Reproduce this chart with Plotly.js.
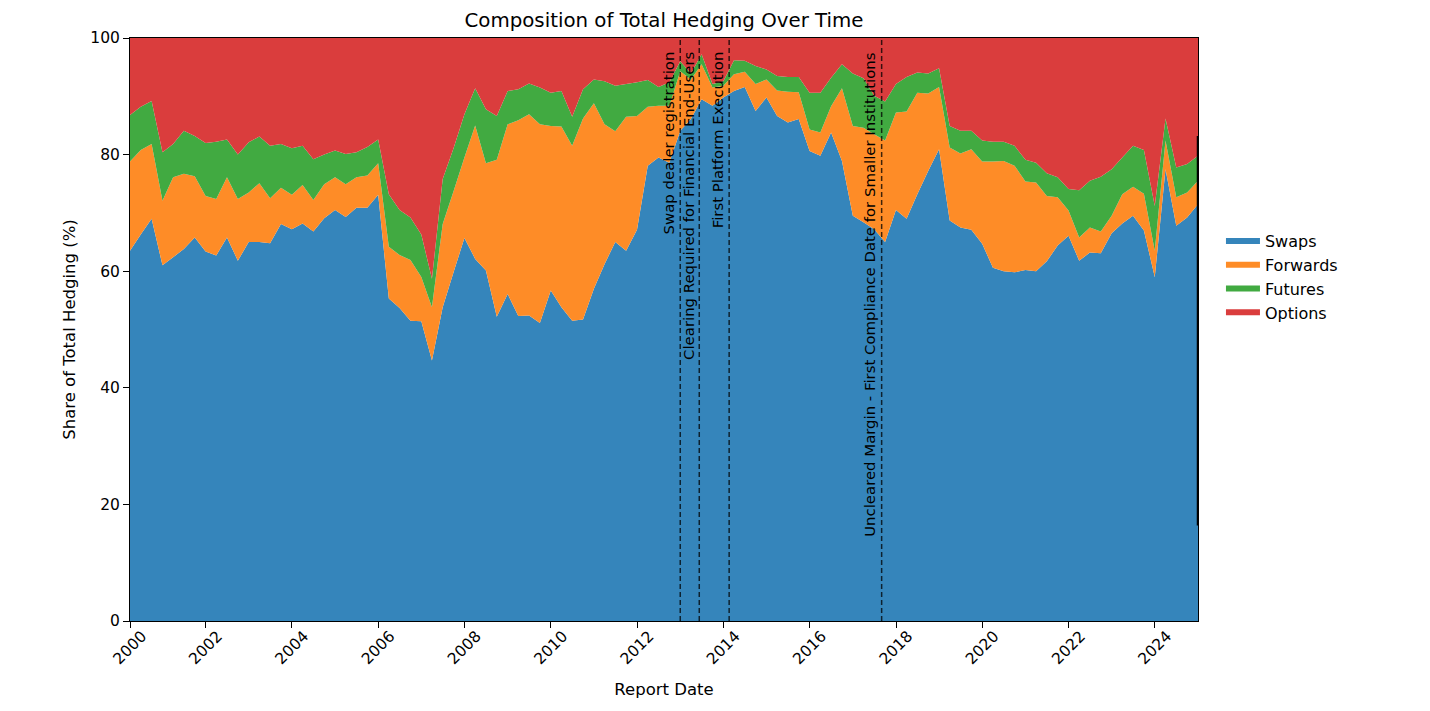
<!DOCTYPE html>
<html>
<head>
<meta charset="utf-8">
<script src="https://cdn.plot.ly/plotly-3.0.1.min.js"></script>
<style>
  body { margin: 0; background: #fff; }
  #chart { width: 1430px; height: 711px; }
</style>
</head>
<body>
<div id="chart"></div>
<script>
var reportDates = [
  "2000-03-31", "2000-06-30", "2000-09-30", "2000-12-31",
  "2001-03-31", "2001-06-30", "2001-09-30", "2001-12-31",
  "2002-03-31", "2002-06-30", "2002-09-30", "2002-12-31",
  "2003-03-31", "2003-06-30", "2003-09-30", "2003-12-31",
  "2004-03-31", "2004-06-30", "2004-09-30", "2004-12-31",
  "2005-03-31", "2005-06-30", "2005-09-30", "2005-12-31",
  "2006-03-31", "2006-06-30", "2006-09-30", "2006-12-31",
  "2007-03-31", "2007-06-30", "2007-09-30", "2007-12-31",
  "2008-03-31", "2008-06-30", "2008-09-30", "2008-12-31",
  "2009-03-31", "2009-06-30", "2009-09-30", "2009-12-31",
  "2010-03-31", "2010-06-30", "2010-09-30", "2010-12-31",
  "2011-03-31", "2011-06-30", "2011-09-30", "2011-12-31",
  "2012-03-31", "2012-06-30", "2012-09-30", "2012-12-31",
  "2013-03-31", "2013-06-30", "2013-09-30", "2013-12-31",
  "2014-03-31", "2014-06-30", "2014-09-30", "2014-12-31",
  "2015-03-31", "2015-06-30", "2015-09-30", "2015-12-31",
  "2016-03-31", "2016-06-30", "2016-09-30", "2016-12-31",
  "2017-03-31", "2017-06-30", "2017-09-30", "2017-12-31",
  "2018-03-31", "2018-06-30", "2018-09-30", "2018-12-31",
  "2019-03-31", "2019-06-30", "2019-09-30", "2019-12-31",
  "2020-03-31", "2020-06-30", "2020-09-30", "2020-12-31",
  "2021-03-31", "2021-06-30", "2021-09-30", "2021-12-31",
  "2022-03-31", "2022-06-30", "2022-09-30", "2022-12-31",
  "2023-03-31", "2023-06-30", "2023-09-30", "2023-12-31",
  "2024-03-31", "2024-06-30", "2024-09-30", "2024-12-31"
];

// shares in %
var swaps = [
  63.5, 66.3, 69.0, 61.0, 62.4, 63.8, 65.8, 63.4, 62.7, 65.8,
  61.8, 65.0, 65.0, 64.8, 68.1, 67.2, 68.2, 66.8, 69.1, 70.5,
  69.3, 70.9, 70.9, 73.1, 55.3, 53.7, 51.5, 51.4, 44.7, 53.8,
  59.8, 65.7, 62.1, 60.1, 52.2, 56.1, 52.3, 52.4, 51.1, 56.7,
  53.8, 51.5, 51.7, 57.0, 61.2, 65.0, 63.5, 67.1, 78.1, 79.5,
  78.6, 84.1, 86.1, 89.5, 88.4, 89.8, 90.9, 91.6, 87.5, 89.8,
  86.6, 85.5, 86.1, 80.6, 79.8, 83.8, 78.9, 69.5, 68.4, 67.2,
  65.0, 70.5, 69.0, 73.2, 77.2, 80.9, 68.7, 67.5, 67.1, 64.7,
  60.6, 60.0, 59.8, 60.2, 60.0, 61.7, 64.4, 66.1, 61.8, 63.2,
  63.1, 66.5, 68.2, 69.5, 67.0, 59.0, 77.5, 67.8, 69.2, 71.5
];
var forwards = [
  15.3, 14.5, 12.8, 11.1, 13.7, 12.9, 10.5, 9.5, 9.7, 10.3,
  10.6, 8.5, 10.1, 7.7, 6.2, 5.9, 6.6, 5.4, 5.8, 5.6,
  5.6, 5.2, 5.5, 5.4, 8.9, 9.1, 10.4, 7.6, 9.1, 14.3,
  13.9, 13.8, 22.9, 18.4, 26.9, 29.1, 33.6, 34.5, 34.1, 28.2,
  31.0, 30.0, 34.5, 31.8, 24.0, 19.0, 23.0, 19.5, 10.1, 8.9,
  9.8, 10.2, 6.8, 6.0, 3.1, 2.0, 2.9, 2.6, 4.6, 3.1,
  4.4, 5.3, 4.6, 3.7, 4.0, 4.5, 12.5, 15.4, 16.2, 16.3,
  17.4, 16.7, 18.4, 17.4, 13.3, 10.7, 12.5, 12.7, 13.8, 14.1,
  18.2, 18.9, 18.3, 15.2, 15.2, 11.2, 8.3, 4.3, 4.0, 4.3,
  3.7, 3.0, 5.0, 5.0, 6.3, 4.5, 4.9, 4.9, 4.3, 4.0
];
var futures = [
  8.0, 7.4, 7.4, 8.3, 5.7, 7.4, 6.9, 9.1, 9.8, 6.5,
  7.6, 8.6, 8.0, 9.0, 7.5, 8.0, 6.7, 7.0, 5.1, 4.6,
  5.2, 4.3, 4.9, 4.1, 9.0, 7.7, 7.3, 7.3, 4.9, 7.7,
  7.4, 7.4, 6.4, 9.3, 7.5, 5.7, 5.3, 5.3, 6.3, 5.7,
  6.1, 5.0, 5.0, 4.1, 7.4, 7.8, 5.6, 5.8, 4.6, 3.2,
  4.0, 1.7, 1.0, 1.7, 0.6, 0.8, 2.4, 1.9, 3.1, 1.7,
  2.5, 2.5, 2.6, 6.3, 6.8, 4.9, 4.1, 9.0, 8.5, 6.6,
  6.7, 4.9, 5.9, 3.5, 3.4, 3.2, 3.7, 3.9, 3.2, 3.6,
  3.4, 3.3, 3.4, 3.7, 3.4, 3.9, 3.4, 3.7, 8.1, 8.0,
  9.4, 8.0, 6.3, 7.0, 7.5, 7.7, 3.8, 5.1, 4.9, 4.3
];
var options = [
  13.2, 11.8, 10.8, 19.6, 18.2, 15.9, 16.8, 18.0, 17.8, 17.4,
  20.0, 17.9, 16.9, 18.5, 18.2, 18.9, 18.5, 20.8, 20.0, 19.3,
  19.9, 19.6, 18.7, 17.4, 26.8, 29.5, 30.8, 33.7, 41.3, 24.2,
  18.9, 13.1, 8.6, 12.2, 13.4, 9.1, 8.8, 7.8, 8.5, 9.4,
  9.1, 13.5, 8.8, 7.1, 7.4, 8.2, 7.9, 7.6, 7.2, 8.4,
  7.6, 4.0, 6.1, 2.8, 7.9, 7.4, 3.8, 3.9, 4.8, 5.4,
  6.5, 6.7, 6.7, 9.4, 9.4, 6.8, 4.5, 6.1, 6.9, 9.9,
  10.9, 7.9, 6.7, 5.9, 6.1, 5.2, 15.1, 15.9, 15.9, 17.6,
  17.8, 17.8, 18.5, 20.9, 21.4, 23.2, 23.9, 25.9, 26.1, 24.5,
  23.8, 22.5, 20.5, 18.5, 19.2, 28.8, 13.8, 22.2, 21.6, 20.2
];

var seriesNames = ["Swaps", "Forwards", "Futures", "Options"];
var seriesColors = ["#3585bb", "#fe8c27", "#41aa41", "#da3d3d"];

// x tick positions and their labels (first one sits on the axis start)
var yearTickVals = [
  "2000-03-31", "2002-01-01", "2004-01-01", "2006-01-01", "2008-01-01",
  "2010-01-01", "2012-01-01", "2014-01-01", "2016-01-01", "2018-01-01",
  "2020-01-01", "2022-01-01", "2024-01-01"
];
var yearTickText = [
  "2000", "2002", "2004", "2006", "2008", "2010", "2012",
  "2014", "2016", "2018", "2020", "2022", "2024"
];

var eventDates = ["2012-12-31", "2013-06-10", "2014-02-18", "2017-09-01"];
var eventLabels = [
  "Swap dealer registration",
  "Clearing Required for Financial End-Users",
  "First Platform Execution",
  "Uncleared Margin - First Compliance Date for Smaller Institutions"
];

var font = "DejaVu Sans, Liberation Sans, sans-serif";

var traces = [swaps, forwards, futures, options].map(function (vals, i) {
  return {
    x: reportDates,
    y: vals,
    name: seriesNames[i],
    type: "scatter",
    mode: "none",
    stackgroup: "hedge",
    fill: "tonexty",
    fillcolor: seriesColors[i],
    line: { width: 0 },
  };
});

var shapes = eventDates.map(function (d) {
  return {
    type: "line",
    xref: "x",
    yref: "paper",
    x0: d,
    x1: d,
    y0: 0,
    y1: 1,
    line: { color: "rgba(0,0,0,0.75)", width: 1.5, dash: "5px,3px" },
  };
});
// dark stroke on the right edge of the last report date
shapes.push({
  type: "line",
  xref: "x",
  yref: "y",
  x0: reportDates[reportDates.length - 1],
  x1: reportDates[reportDates.length - 1],
  y0: 16.4,
  y1: 83.2,
  line: { color: "#000", width: 2.5 },
});

var annotations = eventDates.map(function (d, i) {
  return {
    x: d,
    y: 98,
    xref: "x",
    yref: "y",
    text: eventLabels[i],
    textangle: -90,
    xanchor: "right",
    yanchor: "top",
    showarrow: false,
    font: { family: font, size: 14.9, color: "#000" },
  };
});

var layout = {
  width: 1430,
  height: 711,
  margin: { l: 130, r: 232, t: 38, b: 90 },
  paper_bgcolor: "#fff",
  plot_bgcolor: "#fff",
  font: { family: font, color: "#000" },
  title: {
    text: "Composition of Total Hedging Over Time",
    font: { family: font, size: 19.8, color: "#000" },
    x: 0.5,
    xref: "paper",
    xanchor: "center",
    y: 1 - 20 / 711,
    yref: "container",
    yanchor: "middle",
  },
  xaxis: {
    type: "date",
    range: [reportDates[0], reportDates[reportDates.length - 1]],
    tickmode: "array",
    tickvals: yearTickVals,
    ticktext: yearTickText,
    tickangle: -45,
    ticklabelshift: 12,
    ticklabelstandoff: -7,
    ticks: "outside",
    ticklen: 6,
    tickcolor: "#000",
    tickfont: { family: font, size: 15.5, color: "#000" },
    showline: true,
    mirror: true,
    linecolor: "#000",
    linewidth: 1,
    showgrid: false,
    zeroline: false,
    title: {
      text: "Report Date",
      font: { family: font, size: 16.5, color: "#000" },
      standoff: 16,
    },
  },
  yaxis: {
    range: [0, 100],
    tick0: 0,
    dtick: 20,
    ticks: "outside",
    ticklen: 6,
    tickcolor: "#000",
    tickfont: { family: font, size: 15.5, color: "#000" },
    showline: true,
    mirror: true,
    linecolor: "#000",
    linewidth: 1,
    showgrid: false,
    zeroline: false,
    title: {
      text: "Share of Total Hedging (%)",
      font: { family: font, size: 16.5, color: "#000" },
      standoff: 10,
    },
  },
  legend: {
    x: 1.0215,
    xanchor: "left",
    y: 0.59,
    yanchor: "middle",
    traceorder: "normal",
    itemwidth: 34,
    bgcolor: "rgba(0,0,0,0)",
    font: { family: font, size: 16, color: "#000" },
  },
  shapes: shapes,
  annotations: annotations,
  showlegend: true,
  hovermode: false,
};

Plotly.newPlot("chart", traces, layout, { displayModeBar: false, staticPlot: true });
</script>
</body>
</html>
